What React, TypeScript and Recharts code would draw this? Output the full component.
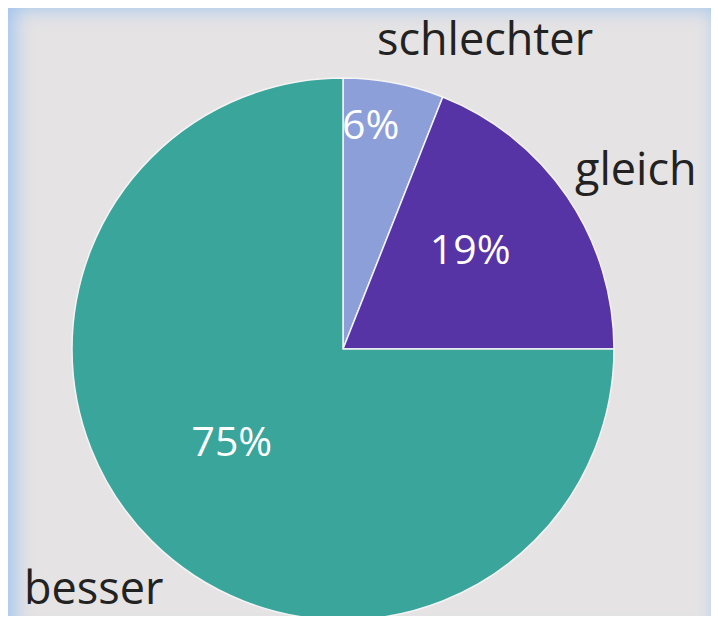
import { PieChart, Pie, Cell } from "recharts";

const categories = ["schlechter", "gleich", "besser"];
const values = [6, 19, 75];
const colors = ["#8c9fd9", "#5734a6", "#3aa59b"];

const data = categories.map((name, i) => ({ name, value: values[i] }));

// label placement per slice: polar offset for percentage and name
const pctPos: Record<string, { r: number; a: number }> = {
  schlechter: { r: 0.84, a: 83 },
  gleich: { r: 0.6, a: 38.5 },
  besser: { r: 0.53, a: -140.7 },
};
const namePos: Record<string, { dx: number; dy: number; anchor: string }> = {
  schlechter: { dx: 142, dy: -294, anchor: "middle" },
  gleich: { dx: 232, dy: -164, anchor: "start" },
  besser: { dx: -319, dy: 255, anchor: "start" },
};

const RAD = Math.PI / 180;

const renderLabel = (props: any) => {
  const { cx, cy, outerRadius, name, value } = props;
  const p = pctPos[name];
  const n = namePos[name];
  const px = cx + outerRadius * p.r * Math.cos(p.a * RAD);
  const py = cy - outerRadius * p.r * Math.sin(p.a * RAD);
  return (
    <g>
      <text
        x={px}
        y={py}
        fill="#ffffff"
        fontSize={41}
        fontFamily="'Open Sans', sans-serif"
        textAnchor="middle"
        dominantBaseline="central"
      >
        {value}%
      </text>
      <text
        x={cx + n.dx}
        y={cy + n.dy}
        fill="#222222"
        fontSize={45}
        fontFamily="'Open Sans', sans-serif"
        textAnchor={n.anchor}
      >
        {name}
      </text>
    </g>
  );
};

export default function App() {
  return (
    <div
      style={{
        margin: -8,
        width: 719,
        height: 624,
        background: "#e5e3e4",
        boxShadow: "inset 18px 12px 20px -4px #9ec4f0, inset -12px 0 16px -6px #b0cdf0",
        position: "relative",
        overflow: "hidden",
      }}
    >
      <PieChart width={719} height={624} margin={{ top: 0, right: 0, bottom: 0, left: 0 }}>
        <Pie
          data={data}
          dataKey="value"
          nameKey="name"
          cx={343}
          cy={349}
          outerRadius={271}
          startAngle={90}
          endAngle={-270}
          stroke="#f4f4f4"
          strokeWidth={1.5}
          label={renderLabel}
          labelLine={false}
          isAnimationActive={false}
        >
          {data.map((d, i) => (
            <Cell key={d.name} fill={colors[i]} />
          ))}
        </Pie>
      </PieChart>
    </div>
  );
}
